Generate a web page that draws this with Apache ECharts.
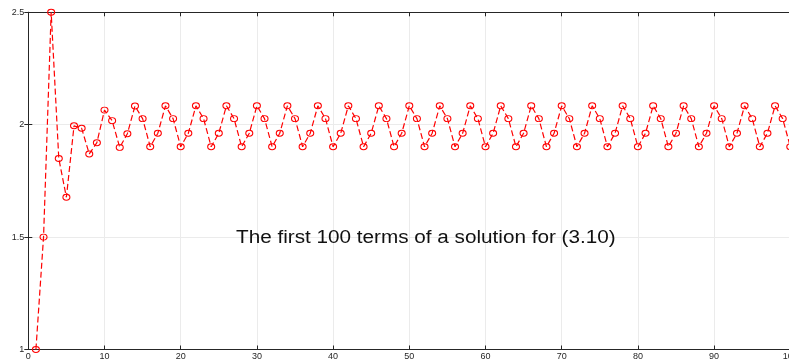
<!DOCTYPE html>
<html>
<head>
<meta charset="utf-8">
<script src="https://cdn.jsdelivr.net/npm/echarts@6/dist/echarts.min.js"></script>
<style>
html,body{margin:0;padding:0;background:#fff;}
#chart{width:789px;height:360px;}
</style>
</head>
<body>
<div id="chart"></div>
<script>
// n = 1..100
const terms = [
  1.000, 1.500, 2.500, 1.850, 1.677, 1.995, 1.984, 1.870, 1.920, 2.065,
  2.018, 1.899, 1.960, 2.083, 2.027, 1.902, 1.962, 2.084, 2.027, 1.902,
  1.962, 2.084, 2.027, 1.902, 1.962, 2.084, 2.027, 1.902, 1.962, 2.084,
  2.027, 1.902, 1.962, 2.084, 2.027, 1.902, 1.962, 2.084, 2.027, 1.902,
  1.962, 2.084, 2.027, 1.902, 1.962, 2.084, 2.027, 1.902, 1.962, 2.084,
  2.027, 1.902, 1.962, 2.084, 2.027, 1.902, 1.962, 2.084, 2.027, 1.902,
  1.962, 2.084, 2.027, 1.902, 1.962, 2.084, 2.027, 1.902, 1.962, 2.084,
  2.027, 1.902, 1.962, 2.084, 2.027, 1.902, 1.962, 2.084, 2.027, 1.902,
  1.962, 2.084, 2.027, 1.902, 1.962, 2.084, 2.027, 1.902, 1.962, 2.084,
  2.027, 1.902, 1.962, 2.084, 2.027, 1.902, 1.962, 2.084, 2.027, 1.902
];
const xTicks = [0, 10, 20, 30, 40, 50, 60, 70, 80, 90, 100];
const yTicks = [1, 1.5, 2, 2.5];
const annotation = 'The first 100 terms of a solution for (3.10)';

const seriesData = terms.map((v, i) => [i + 1, v]);

const chart = echarts.init(document.getElementById('chart'), null, {renderer: 'canvas'});
const axisLine = {show: true, lineStyle: {color: '#262626', width: 1}};
const labelStyle = {color: '#262626', fontSize: 9, fontFamily: 'Liberation Sans, Arial, sans-serif'};
chart.setOption({
  animation: false,
  backgroundColor: '#ffffff',
  grid: {left: 28.3, top: 12.3, width: 762, height: 337.2, containLabel: false, outerBoundsMode: 'none'},
  xAxis: [{
    type: 'value', min: 0, max: 100, interval: 10, position: 'bottom',
    axisLine: axisLine,
    axisTick: {show: true, inside: true, length: 4, lineStyle: {color: '#262626'}},
    axisLabel: Object.assign({margin: 3, formatter: v => xTicks.includes(v) ? String(v) : ''}, labelStyle),
    splitLine: {show: true, lineStyle: {color: '#ebebeb', width: 1}}
  }, {
    type: 'value', min: 0, max: 100, interval: 10, position: 'top',
    axisLine: axisLine,
    axisTick: {show: true, inside: true, length: 4, lineStyle: {color: '#262626'}},
    axisLabel: {show: false},
    splitLine: {show: false}
  }],
  yAxis: [{
    type: 'value', min: 1, max: 2.5, interval: 0.5, position: 'left',
    axisLine: axisLine,
    axisTick: {show: true, inside: true, length: 4, lineStyle: {color: '#262626'}},
    axisLabel: Object.assign({margin: 4, formatter: v => yTicks.includes(v) ? String(v) : ''}, labelStyle),
    splitLine: {show: true, lineStyle: {color: '#ebebeb', width: 1}}
  }, {
    type: 'value', min: 1, max: 2.5, interval: 0.5, position: 'right',
    axisLine: axisLine,
    axisTick: {show: true, inside: true, length: 4, lineStyle: {color: '#262626'}},
    axisLabel: {show: false},
    splitLine: {show: false}
  }],
  series: [{
    type: 'line',
    data: seriesData,
    symbol: 'circle',
    symbolSize: [7, 6],
    showAllSymbol: true,
    itemStyle: {color: 'rgba(255,255,255,0)', borderColor: '#ff0000', borderWidth: 1},
    lineStyle: {color: '#ff0000', width: 1.2, type: [6, 3]},
    clip: false,
    z: 3
  }],
  graphic: [{
    type: 'text',
    x: 236,
    y: 229,
    scaleX: 1.15,
    z: 10,
    style: {
      text: annotation,
      fill: '#111111',
      font: '18px "Liberation Sans", Arial, sans-serif'
    }
  }]
});
</script>
</body>
</html>
